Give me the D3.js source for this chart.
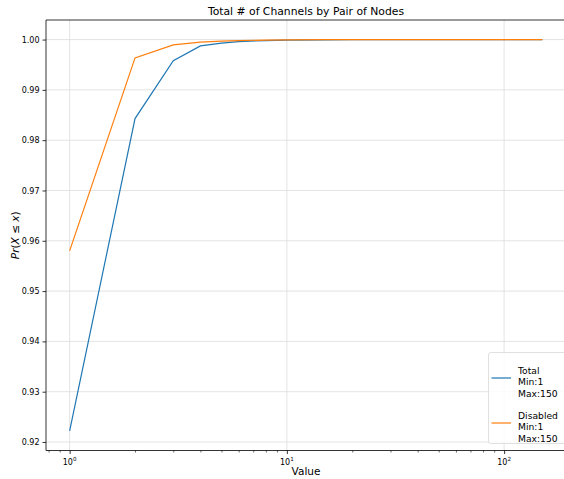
<!DOCTYPE html>
<html>
<head>
<meta charset="utf-8">
<script src="https://cdn.jsdelivr.net/npm/d3@7"></script>
<style>
  html, body { margin: 0; padding: 0; background: #fff; }
  svg { display: block; font-family: "DejaVu Sans", sans-serif; }
</style>
</head>
<body>
<svg id="chart" width="564" height="479"></svg>
<script>
// Cumulative distribution of channel counts per node pair
const values = [1, 2, 3, 4, 5, 6, 8, 10, 15, 20, 30, 50, 100, 150];
const totalCdf = [0.9222, 0.9843, 0.9958, 0.99875, 0.9993, 0.9996, 0.9998, 0.99988, 0.99994, 0.99996, 0.99998, 0.99999, 0.999995, 1.0];
const disabledCdf = [0.9580, 0.99636, 0.99895, 0.99948, 0.9997, 0.9998, 0.9999, 0.99994, 0.99997, 0.99998, 0.99999, 0.999995, 0.999998, 1.0];
const seriesNames = ["Total", "Disabled"];
const seriesColors = ["#1f77b4", "#ff7f0e"];
const yTicks = [0.92, 0.93, 0.94, 0.95, 0.96, 0.97, 0.98, 0.99, 1.00];
const xMajorTicks = [1, 10, 100];
const xMinorTicks = [0.8, 0.9, 2, 3, 4, 5, 6, 7, 8, 9, 20, 30, 40, 50, 60, 70, 80, 90];
const legendStats = ["Min:1", "Max:150"];

const svg = d3.select("#chart");
const plotLeft = 46, plotRight = 566, plotTop = 20, plotBottom = 450.5;

// 5% padding on both axes, as in the usual plotting defaults
const lx0 = Math.log10(d3.min(values)), lx1 = Math.log10(d3.max(values));
const padX = (lx1 - lx0) * 0.05;
const x = d3.scaleLog()
  .domain([Math.pow(10, lx0 - padX), Math.pow(10, lx1 + padX)])
  .range([plotLeft, plotRight]);

const yMin = d3.min(totalCdf.concat(disabledCdf)), yMax = 1.0;
const padY = (yMax - yMin) * 0.05;
const y = d3.scaleLinear().domain([yMin - padY, yMax + padY]).range([plotBottom, plotTop]);

// grid
const grid = svg.append("g").attr("stroke", "#dcdcdc").attr("stroke-width", 0.8);
yTicks.forEach(t => grid.append("line")
  .attr("x1", plotLeft).attr("x2", plotRight).attr("y1", y(t)).attr("y2", y(t)));
xMajorTicks.forEach(t => grid.append("line")
  .attr("x1", x(t)).attr("x2", x(t)).attr("y1", plotTop).attr("y2", plotBottom));

// series lines
const line = d3.line().x(d => x(d[0])).y(d => y(d[1]));
[totalCdf, disabledCdf].forEach((s, i) => {
  svg.append("path")
    .datum(values.map((v, j) => [v, s[j]]))
    .attr("d", line)
    .attr("fill", "none")
    .attr("stroke", seriesColors[i])
    .attr("stroke-width", 1.2);
});

// y axis
const yAxis = svg.append("g").attr("transform", `translate(${plotLeft},0)`)
  .call(d3.axisLeft(y).tickValues(yTicks).tickFormat(d3.format(".2f")).tickSize(3.5).tickPadding(3));
yAxis.select(".domain").remove();
yAxis.selectAll("text").attr("font-size", 8).attr("fill", "#000")
  .attr("font-family", "DejaVu Sans, sans-serif");
yAxis.selectAll(".tick line").attr("stroke", "#000").attr("stroke-width", 0.8);

// x axis: major ticks with exponent labels, minor ticks unlabeled
const xAxis = svg.append("g").attr("transform", `translate(0,${plotBottom})`)
  .call(d3.axisBottom(x).tickValues(xMajorTicks).tickFormat("").tickSize(3.5));
xAxis.select(".domain").remove();
xAxis.selectAll(".tick line").attr("stroke", "#000").attr("stroke-width", 0.8);
const xMinor = svg.append("g").attr("transform", `translate(0,${plotBottom})`)
  .call(d3.axisBottom(x).tickValues(xMinorTicks).tickFormat("").tickSize(2));
xMinor.select(".domain").remove();
xMinor.selectAll(".tick line").attr("stroke", "#000").attr("stroke-width", 0.6);

xMajorTicks.forEach(t => {
  const txt = svg.append("text")
    .attr("x", x(t)).attr("y", plotBottom + 14.5)
    .attr("text-anchor", "middle").attr("font-size", 8).attr("fill", "#000");
  txt.append("tspan").text("10");
  txt.append("tspan").attr("dy", -4).attr("font-size", 5.6).text(String(Math.round(Math.log10(t))));
});

// spines (right side lies past the visible area)
svg.append("path")
  .attr("d", `M${plotRight},${plotTop}H${plotLeft}V${plotBottom}H${plotRight}`)
  .attr("fill", "none").attr("stroke", "#000").attr("stroke-width", 0.8);

// title and axis labels
svg.append("text").attr("x", (plotLeft + plotRight) / 2).attr("y", 15)
  .attr("text-anchor", "middle").attr("font-size", 10.8).attr("fill", "#000")
  .text("Total # of Channels by Pair of Nodes");
svg.append("text").attr("x", (plotLeft + plotRight) / 2).attr("y", 475)
  .attr("text-anchor", "middle").attr("font-size", 10.5).attr("fill", "#000")
  .text("Value");
const yl = svg.append("text")
  .attr("transform", `translate(19,${(plotTop + plotBottom) / 2}) rotate(-90)`)
  .attr("text-anchor", "middle").attr("font-size", 10.5).attr("fill", "#000");
yl.append("tspan").attr("font-style", "italic").text("Pr");
yl.append("tspan").text("(");
yl.append("tspan").attr("font-style", "italic").text("X");
yl.append("tspan").text(" ≤ ");
yl.append("tspan").attr("font-style", "italic").text("x");
yl.append("tspan").text(")");

// legend
const lg = svg.append("g");
lg.append("rect").attr("x", 488.5).attr("y", 352.5).attr("width", 80).attr("height", 91)
  .attr("rx", 2).attr("fill", "#fff").attr("fill-opacity", 0.8)
  .attr("stroke", "#d8d8d8").attr("stroke-width", 0.8);
seriesNames.forEach((name, i) => {
  const cy = 378 + i * 45;
  lg.append("line").attr("x1", 491.5).attr("x2", 511).attr("y1", cy).attr("y2", cy)
    .attr("stroke", seriesColors[i]).attr("stroke-width", 1.2);
  [name].concat(legendStats).forEach((s, k) => {
    lg.append("text").attr("x", 518).attr("y", cy - 4.5 + k * 11.7)
      .attr("font-size", 9.2).attr("fill", "#000").text(s);
  });
});
</script>
</body>
</html>
